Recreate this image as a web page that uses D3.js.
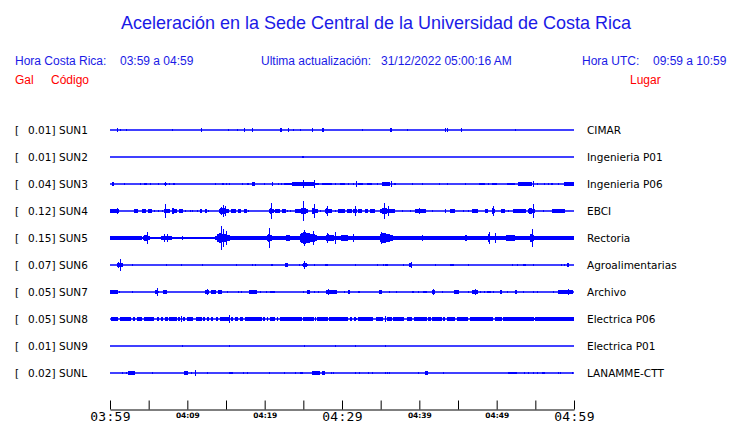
<!DOCTYPE html>
<html>
<head>
<meta charset="utf-8">
<script src="https://cdn.jsdelivr.net/npm/d3@7"></script>
<style>
  html, body { margin: 0; padding: 0; background: #ffffff; }
  svg { display: block; }
</style>
</head>
<body>
<svg id="chart" width="740" height="423"></svg>
<script>
// ---------------- DATA ----------------
const titleText = "Aceleración en la Sede Central de la Universidad de Costa Rica";
const localRange = "03:59 a 04:59";
const updated = "31/12/2022 05:00:16 AM";
const utcRange = "09:59 a 10:59";

const codes  = ["SUN1","SUN2","SUN3","SUN4","SUN5","SUN6","SUN7","SUN8","SUN9","SUNL"];
const peaks  = [0.01, 0.01, 0.04, 0.12, 0.15, 0.07, 0.05, 0.05, 0.01, 0.02];
const places = ["CIMAR","Ingenieria P01","Ingenieria P06","EBCI","Rectoria","Agroalimentarias","Archivo","Electrica P06","Electrica P01","LANAMME-CTT"];

// time axis: minutes after 03:59 local time
const tickMinutes = [0,5,10,15,20,25,30,35,40,45,50,55,60];
const tickLabels  = ["03:59","","04:09","","04:19","","04:29","","04:39","","04:49","","04:59"];
const majorTicks  = ["03:59","04:29","04:59"];

// trace activity: [start minute, duration minutes, relative half-amplitude]
const sun1 = [[0.95,0.06,0.17],[1.34,0.06,0.08],[2.11,0.06,0.08],[7.97,0.06,0.08],[11.72,0.06,0.15],[15.3,0.06,0.08],[16.47,0.06,0.08],[17.37,0.06,0.15],[18.4,0.06,0.15],[22.0,0.22,0.14],[23.06,0.06,0.15],[23.62,0.06,0.08],[24.53,0.06,0.08],[26.08,0.06,0.15],[27.45,0.22,0.14],[32.59,0.06,0.08],[36.25,0.22,0.14],[38.45,0.06,0.08],[43.32,0.06,0.15],[43.62,0.06,0.15],[45.43,0.06,0.15],[52.37,0.06,0.08]];
const sun2 = [[24.85,0.2,0.12]];
const sun3 = [[0.3,0.26,0.14],[1.85,0.05,0.08],[3.92,0.1,0.12],[4.44,0.3,0.12],[5.17,0.08,0.1],[6.25,0.05,0.06],[6.94,0.4,0.12],[7.11,0.1,0.2],[7.67,0.1,0.1],[8.15,0.25,0.12],[13.58,0.08,0.1],[14.44,0.25,0.12],[14.96,0.1,0.1],[15.39,0.05,0.08],[17.03,0.05,0.06],[17.67,0.3,0.1],[18.3,0.4,0.14],[19.96,0.05,0.08],[20.9,0.08,0.2],[21.77,0.05,0.08],[22.1,0.2,0.1],[22.5,1.0,0.12],[23.5,1.4,0.15],[24.9,0.08,0.3],[25.04,1.4,0.14],[26.4,0.08,0.3],[26.5,0.5,0.12],[27.37,1.3,0.12],[29.1,0.1,0.1],[29.74,0.65,0.12],[30.82,0.05,0.1],[31.47,0.05,0.12],[31.77,0.08,0.25],[32.1,0.65,0.12],[33.19,0.75,0.12],[34.48,0.1,0.1],[35.13,1.1,0.15],[36.29,0.08,0.22],[36.77,0.15,0.12],[39.0,0.05,0.1],[40.3,0.1,0.1],[42.6,0.05,0.1],[43.53,0.15,0.12],[45.9,0.05,0.08],[47.72,0.8,0.12],[48.92,0.1,0.1],[49.35,0.65,0.12],[51.29,1.1,0.12],[52.8,1.8,0.14],[54.66,0.08,0.22],[55.17,0.1,0.1],[56.16,0.1,0.1],[56.68,0.1,0.1],[57.03,0.3,0.12],[57.97,0.1,0.1],[58.75,1.2,0.14]];
const sun4 = [[0,1.15,0.17],[0.86,0.08,0.28],[3.15,0.43,0.13],[4.1,0.5,0.14],[4.96,0.43,0.13],[5.73,0.1,0.12],[6.16,0.15,0.12],[6.68,0.08,0.1],[7.03,0.7,0.18],[7.16,0.08,0.6],[7.97,0.65,0.25],[8.9,0.5,0.14],[9.7,0.1,0.12],[10.3,0.1,0.12],[10.6,0.15,0.12],[11.2,0.1,0.12],[11.6,0.3,0.14],[12.3,0.2,0.13],[12.7,0.1,0.1],[14.1,1.25,0.3],[14.65,0.08,0.53],[14.9,0.08,0.45],[15.7,0.65,0.14],[16.6,0.3,0.13],[17.3,0.4,0.13],[17.9,0.1,0.1],[20.6,0.75,0.22],[20.8,0.08,0.7],[21.4,0.6,0.14],[22.2,0.5,0.13],[22.85,0.1,0.12],[23.3,0.1,0.12],[23.9,0.85,0.15],[24.6,1.05,0.3],[24.9,0.08,0.83],[26.1,0.75,0.28],[26.4,0.08,0.55],[27.15,0.1,0.12],[27.8,0.9,0.25],[28.1,0.08,0.4],[29.1,0.1,0.12],[29.5,0.85,0.14],[30.6,0.65,0.14],[31.45,0.55,0.2],[31.7,0.08,0.42],[32.1,0.45,0.15],[33.0,0.4,0.14],[33.6,0.65,0.14],[34.9,1.9,0.25],[35.47,0.08,0.7],[35.9,0.08,0.4],[37.7,0.1,0.1],[38.8,0.1,0.12],[39.4,1.5,0.15],[39.9,0.08,0.25],[41.6,0.1,0.12],[43.3,0.1,0.13],[44.0,0.6,0.13],[45.7,0.1,0.12],[46.3,0.1,0.1],[46.8,0.85,0.14],[48.5,0.4,0.14],[49.35,0.45,0.25],[49.57,0.08,0.42],[50.6,0.45,0.13],[51.5,0.1,0.12],[52.15,1.7,0.14],[54.1,0.85,0.25],[54.65,0.08,0.58],[56.0,0.1,0.1],[57.1,1.75,0.15]];
const sun5 = [[0,4.1,0.17],[4.1,9.5,0.12],[13.58,46.42,0.15],[4.31,0.86,0.25],[4.74,0.08,0.5],[6.6,1.72,0.2],[7.03,0.08,0.37],[7.33,0.08,0.3],[9.27,0.08,0.2],[13.8,1.72,0.42],[14.35,0.08,1.0],[14.65,0.08,0.75],[14.95,0.08,0.55],[16.16,0.86,0.2],[19.18,0.1,0.2],[20.26,0.86,0.35],[20.6,0.08,0.85],[21.34,0.86,0.2],[22.63,1.3,0.25],[24.57,2.16,0.5],[25.13,0.08,0.65],[26.3,0.08,0.6],[27.8,1.72,0.3],[28.1,0.08,0.42],[29.1,0.08,0.5],[29.53,2.6,0.25],[31.47,0.08,0.35],[32.54,2.16,0.2],[34.9,1.72,0.45],[35.1,0.08,0.5],[36.85,2.16,0.18],[40.3,0.3,0.25],[41.38,1.08,0.2],[43.53,0.2,0.2],[44.18,1.72,0.16],[45.9,0.2,0.25],[46.77,1.3,0.2],[48.84,0.5,0.3],[49.0,0.08,0.5],[49.78,0.08,0.45],[50.86,3.2,0.25],[54.3,0.5,0.4],[54.53,0.08,0.75],[54.96,0.43,0.2],[55.8,1.5,0.2],[57.54,2.4,0.2]];
const sun6 = [[0.86,0.86,0.22],[1.29,0.08,0.5],[2.89,0.06,0.1],[7.2,0.12,0.12],[9.18,0.12,0.12],[11.94,0.06,0.08],[16.25,0.12,0.12],[18.4,0.1,0.12],[18.75,0.12,0.12],[20.82,0.2,0.12],[22.63,0.4,0.15],[24.48,0.06,0.08],[24.78,0.06,0.1],[25.0,0.6,0.2],[25.13,0.08,0.33],[26.42,0.06,0.08],[27.8,0.4,0.12],[31.68,0.06,0.08],[34.48,0.06,0.08],[35.26,0.06,0.1],[35.56,0.35,0.12],[37.93,0.06,0.08],[38.66,0.45,0.14],[38.9,0.08,0.22],[42.03,0.06,0.08],[43.97,0.45,0.12],[46.25,0.2,0.12],[52.03,0.12,0.12],[52.59,0.12,0.12],[53.45,0.3,0.12],[54.66,0.12,0.12],[58.32,0.1,0.12],[58.75,0.1,0.12],[59.05,0.35,0.18]];
const sun7 = [[0,1.0,0.14],[1.2,0.06,0.08],[2.8,0.06,0.06],[5.82,0.55,0.2],[6.12,0.08,0.33],[6.9,0.45,0.14],[12.28,0.5,0.18],[12.54,0.08,0.28],[13.06,0.6,0.15],[13.58,0.08,0.2],[14.0,0.45,0.14],[15.1,0.06,0.06],[16.6,0.06,0.06],[16.9,0.06,0.06],[18.0,0.95,0.14],[19.4,0.06,0.08],[20.2,0.1,0.1],[20.7,0.65,0.12],[24.9,0.08,0.1],[25.47,0.45,0.14],[26.42,0.08,0.1],[26.94,0.06,0.08],[27.93,1.38,0.15],[28.15,0.08,0.25],[30.3,0.06,0.08],[30.73,0.3,0.14],[30.85,0.08,0.2],[32.1,0.22,0.12],[34.8,0.43,0.14],[36.1,0.17,0.12],[37.0,0.08,0.1],[39.05,0.3,0.12],[39.87,0.06,0.1],[40.5,0.43,0.12],[41.6,0.4,0.18],[41.8,0.08,0.28],[42.97,0.1,0.1],[44.48,0.7,0.14],[46.25,0.08,0.1],[46.77,0.86,0.14],[47.2,0.08,0.22],[47.84,0.08,0.1],[48.36,0.08,0.1],[48.7,0.52,0.12],[49.57,0.08,0.1],[50.43,0.3,0.13],[51.3,0.06,0.08],[52.37,0.3,0.13],[53.45,0.06,0.08],[54.74,0.1,0.12],[55.17,0.1,0.12],[57.33,0.06,0.08],[57.97,1.95,0.15],[59.27,0.08,0.22]];
const sun8 = [[0.09,1.0,0.14],[1.29,1.42,0.14],[3.02,0.22,0.14],[3.45,0.73,0.14],[4.44,1.29,0.14],[6.03,0.3,0.14],[6.6,0.3,0.14],[7.11,0.34,0.14],[7.67,0.95,0.14],[8.84,0.22,0.14],[9.18,0.08,0.22],[9.4,0.3,0.14],[9.91,0.86,0.14],[11.08,0.78,0.14],[12.07,0.22,0.14],[12.5,0.3,0.14],[13.06,0.3,0.14],[13.66,0.34,0.14],[14.22,1.16,0.14],[15.43,0.08,0.36],[15.65,0.3,0.14],[16.16,0.34,0.14],[16.81,0.43,0.14],[17.46,2.16,0.14],[19.83,0.22,0.14],[20.26,0.22,0.14],[20.69,0.65,0.14],[21.55,0.22,0.14],[21.98,2.8,0.14],[24.91,0.15,0.18],[25.13,1.29,0.14],[26.55,0.08,0.2],[26.72,1.42,0.14],[28.32,2.41,0.14],[31.03,0.22,0.14],[31.6,0.3,0.2],[32.11,1.94,0.14],[34.35,1.0,0.14],[35.56,0.08,0.22],[35.78,0.65,0.14],[36.64,1.42,0.14],[38.36,0.65,0.14],[39.35,1.6,0.14],[41.16,0.34,0.14],[41.68,1.2,0.14],[43.1,0.22,0.14],[43.53,1.08,0.14],[44.83,1.5,0.14],[46.55,3.0,0.14],[49.78,0.08,0.2],[49.87,0.78,0.14],[50.86,3.66,0.14],[54.53,0.43,0.2],[54.96,5.04,0.14]];
const sun9 = [[9.27,0.06,0.12],[15.43,0.06,0.12],[25.04,0.06,0.06],[29.14,0.06,0.06],[31.72,0.06,0.12],[35.6,0.06,0.06]];
const sunl = [[1.59,0.06,0.08],[2.07,0.06,0.08],[2.37,0.86,0.14],[3.02,0.08,0.18],[5.39,0.06,0.08],[9.61,0.52,0.14],[10.43,0.06,0.08],[11.03,0.08,0.23],[12.59,0.06,0.06],[15.39,0.56,0.12],[17.2,0.06,0.08],[17.67,0.06,0.08],[20.6,0.06,0.06],[22.5,0.06,0.08],[23.92,0.06,0.08],[24.57,0.35,0.12],[26.16,1.0,0.14],[27.37,0.43,0.14],[28.53,0.06,0.08],[28.79,0.06,0.08],[31.68,0.06,0.1],[32.24,0.06,0.08],[33.4,0.06,0.08],[33.84,0.06,0.06],[35.56,0.06,0.08],[35.86,0.06,0.08],[36.12,0.06,0.08],[39.87,0.06,0.1],[40.73,0.35,0.14],[43.1,0.06,0.06],[51.5,1.08,0.12],[53.58,0.06,0.08],[54.0,0.06,0.08],[54.66,0.2,0.12],[55.17,0.06,0.08],[55.9,0.35,0.12],[57.97,0.06,0.1],[58.19,0.06,0.1],[59.78,0.06,0.08]];
const traces = [sun1, sun2, sun3, sun4, sun5, sun6, sun7, sun8, sun9, sunl];

// ---------------- DRAW ----------------
const blue = "#0000ff", textBlue = "#1a1ae6", red = "#ff0000";
const svg = d3.select("#chart");

const x = d3.scaleLinear().domain([0, 60]).range([110, 574]);
const row = d3.scaleBand().domain(codes).range([116.5, 386.5]);
const amp = d3.scaleLinear().domain([0, 1]).range([0, 12]);
const yBase = c => Math.round(row(c) + row.bandwidth() / 2);

// header
svg.append("text").attr("x", 376).attr("y", 29).attr("text-anchor", "middle")
  .attr("font-family", "Liberation Sans, Arial, sans-serif").attr("font-size", 19)
  .attr("fill", textBlue).attr("textLength", 510).attr("lengthAdjust", "spacingAndGlyphs")
  .text(titleText);

const hdr = [
  {t: "Hora Costa Rica:", x: 15, y: 65, c: textBlue},
  {t: localRange, x: 120, y: 65, c: textBlue},
  {t: "Ultima actualización:", x: 261, y: 65, c: textBlue},
  {t: updated, x: 381, y: 65, c: textBlue},
  {t: "Hora UTC:", x: 582, y: 65, c: textBlue},
  {t: utcRange, x: 653, y: 65, c: textBlue},
  {t: "Gal", x: 15, y: 84, c: red},
  {t: "Código", x: 51, y: 84, c: red},
  {t: "Lugar", x: 630, y: 84, c: red}
];
svg.append("g").selectAll("text").data(hdr).join("text")
  .attr("x", d => d.x).attr("y", d => d.y)
  .attr("font-family", "Liberation Sans, Arial, sans-serif").attr("font-size", 12)
  .attr("fill", d => d.c).text(d => d.t);

// rows
const rows = svg.append("g").selectAll("g").data(codes).join("g")
  .attr("transform", c => `translate(0,${yBase(c)})`);

const labelFont = "DejaVu Sans, sans-serif";
rows.append("text").attr("x", 15).attr("y", 4)
  .attr("font-family", labelFont).attr("font-size", 10.5).attr("fill", "#000")
  .text("[");
rows.append("text").attr("x", 55.5).attr("y", 4).attr("text-anchor", "end")
  .attr("font-family", labelFont).attr("font-size", 10.5).attr("fill", "#000")
  .text((c, i) => peaks[i].toFixed(2) + "]");
rows.append("text").attr("x", 59).attr("y", 4)
  .attr("font-family", labelFont).attr("font-size", 10.5).attr("fill", "#000")
  .text(c => c);
rows.append("text").attr("x", 587).attr("y", 4)
  .attr("font-family", labelFont).attr("font-size", 10.5).attr("fill", "#000")
  .text((c, i) => places[i]);

rows.append("line").attr("x1", x(0)).attr("x2", x(60)).attr("y1", 0).attr("y2", 0)
  .attr("stroke", blue).attr("stroke-width", 1.4);

// bursts: quick onset, slower decay (envelope shape); small ones as blocks
function burstPath(d) {
  const x0 = x(d[0]);
  const w = Math.max(1, x(d[0] + d[1]) - x0);
  const x1 = x0 + w;
  const a = Math.max(1, amp(d[2]));
  if (d[2] >= 0.2 && d[1] >= 0.3) {
    const xp = x0 + 0.22 * w;
    return `M${x0},${-0.6 * a}L${xp},${-a}L${x1},${-0.5 * a}L${x1},${0.5 * a}L${xp},${a}L${x0},${0.6 * a}Z`;
  }
  return `M${x0},${-a}H${x1}V${a}H${x0}Z`;
}

rows.each(function (c, i) {
  d3.select(this).append("g").attr("shape-rendering", "crispEdges")
    .selectAll("path").data(traces[i]).join("path")
    .attr("d", burstPath)
    .attr("fill", blue);
});

// time axis
const axis = d3.axisBottom(x).tickValues(tickMinutes).tickSizeInner(-9).tickSizeOuter(0)
  .tickPadding(12).tickFormat((d, i) => tickLabels[i]);
const ax = svg.append("g").attr("transform", "translate(0,409.5)").call(axis);
ax.select(".domain").attr("stroke", "#000").attr("stroke-width", 1);
ax.selectAll(".tick line").attr("stroke", "#000").attr("stroke-width", 1);
ax.selectAll(".tick text").each(function (d, i) {
  const big = majorTicks.includes(tickLabels[i]);
  d3.select(this)
    .attr("fill", "#000")
    .attr("font-family", big ? "DejaVu Sans Mono, monospace" : "DejaVu Sans, sans-serif")
    .attr("font-weight", big ? "normal" : "bold")
    .attr("font-size", big ? 13 : 7.5)
    .attr("letter-spacing", big ? 0.3 : 0)
    .attr("dy", null)
    .attr("y", big ? 11.5 : 8.5);
});
</script>
</body>
</html>
